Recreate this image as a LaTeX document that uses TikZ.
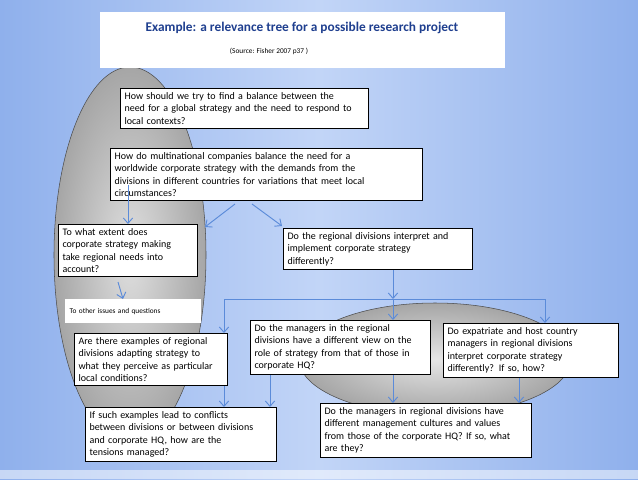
\documentclass[tikz,border=0pt]{standalone}
\usepackage{fontspec}
\setmainfont{Carlito}
\usetikzlibrary{arrows.meta}
\definecolor{bgA}{HTML}{8FB0EC}
\definecolor{bgB}{HTML}{C2D5F7}
\definecolor{arr}{HTML}{5B8BD9}
\definecolor{ttl}{HTML}{1F3F8F}
\begin{document}
\begin{tikzpicture}[x=0.75pt,y=-0.75pt,
  qbox/.style={draw=black,fill=white,line width=0.8pt,inner sep=3pt,anchor=north west,align=left,font=\fontsize{7.5}{9.3}\selectfont},
  con/.style={draw=arr,line width=0.7pt,-{Straight Barb[length=4pt,width=7pt]}}]
\useasboundingbox (0,0) rectangle (638,479);
\shade[left color=bgA,right color=bgA,middle color=bgB] (0,0) rectangle (638,479);
\fill[white,opacity=0.5] (0,470) rectangle (638,479);
% ellipses
\shade[inner color=gray!25,outer color=gray!70,draw=gray!60!black] (130,255) ellipse [x radius=76,y radius=188];
\shade[inner color=gray!20,outer color=gray!70,draw=gray!60!black] (435,359) ellipse [x radius=136,y radius=56];
% title
\node[draw=none,fill=white,minimum width=405*0.75pt,minimum height=56*0.75pt,anchor=north west] (title) at (100,12) {};
\node[font=\fontsize{10}{12}\selectfont\bfseries,text=ttl] (tt) at (302,28) {Example: a relevance tree for a possible research project};
\node[font=\fontsize{5.5}{7}\selectfont] (src) at (269,51) {(Source: Fisher 2007 p37 )};
% boxes
\node[qbox,text width=180pt] (b1) at (120,88) {How should we try to find a balance between the\\ need for a global strategy and the need to respond to\\ local contexts?};
\node[qbox,text width=228pt] (b2) at (110,148) {How do multinational companies balance the need for a\\ worldwide corporate strategy with the demands from the\\ divisions in different countries for variations that meet local\\ circumstances?};
\node[qbox,text width=98pt] (b3) at (58,224) {To what extent does\\ corporate strategy making\\ take regional needs into\\ account?};
\node[qbox,text width=136pt] (b4) at (283,228) {Do the regional divisions interpret and\\ implement corporate strategy\\ differently?};
\node[fill=white,anchor=north west,minimum width=135*0.75pt,minimum height=24*0.75pt,font=\fontsize{5.5}{7}\selectfont,align=left,text width=95pt] (oth) at (65,299) {To other issues and questions};
\node[qbox,text width=109pt] (b5) at (74,333) {Are there examples  of regional\\ divisions adapting strategy to\\ what they perceive as particular\\ local conditions?};
\node[qbox,text width=129pt] (b6) at (250,320) {Do the managers in the regional\\ divisions have a different view on the\\ role of strategy from that of those in\\ corporate HQ?};
\node[qbox,text width=125pt] (b7) at (443,323) {Do expatriate and host country\\ managers in regional divisions\\ interpret corporate strategy\\ differently?  If so, how?};
\node[qbox,text width=137pt] (b8) at (85,407) {If such examples lead to conflicts\\ between divisions or between divisions\\ and corporate HQ, how are the\\ tensions managed?};
\node[qbox,text width=152pt] (b9) at (320,403) {Do the managers in regional divisions have\\ different management cultures and values\\ from those of the corporate HQ?  If so, what\\ are they?};
% connectors
\coordinate (j) at (393,299);
\draw[con] (b2.south west -| 128,0) ++(0,-16) -- (b3.north -| 128,0);
\draw[con] (235,204) -- (205,227);
\draw[con] (252,204) -- (282,226);
\draw[con] (118,282) -- (oth.north -| 123,0);
\draw[con] (b4.south -| 393,0) -- (j);
\draw[con] (j) -- (b6.north -| 393,0);
\draw[con] (j) -| (b5.north -| 224,0);
\draw[con] (j) -| (b7.north -| 545,0);
\draw[con] (b5.south -| 224,0) -- (b8.north -| 224,0);
\draw[con] (b6.south -| 270,0) -- (b8.north -| 270,0);
\draw[con] (b6.south -| 393,0) -- (b9.north -| 393,0);
\draw[con] (b7.south -| 519,0) -- (b9.north -| 519,0);
\end{tikzpicture}
\end{document}
